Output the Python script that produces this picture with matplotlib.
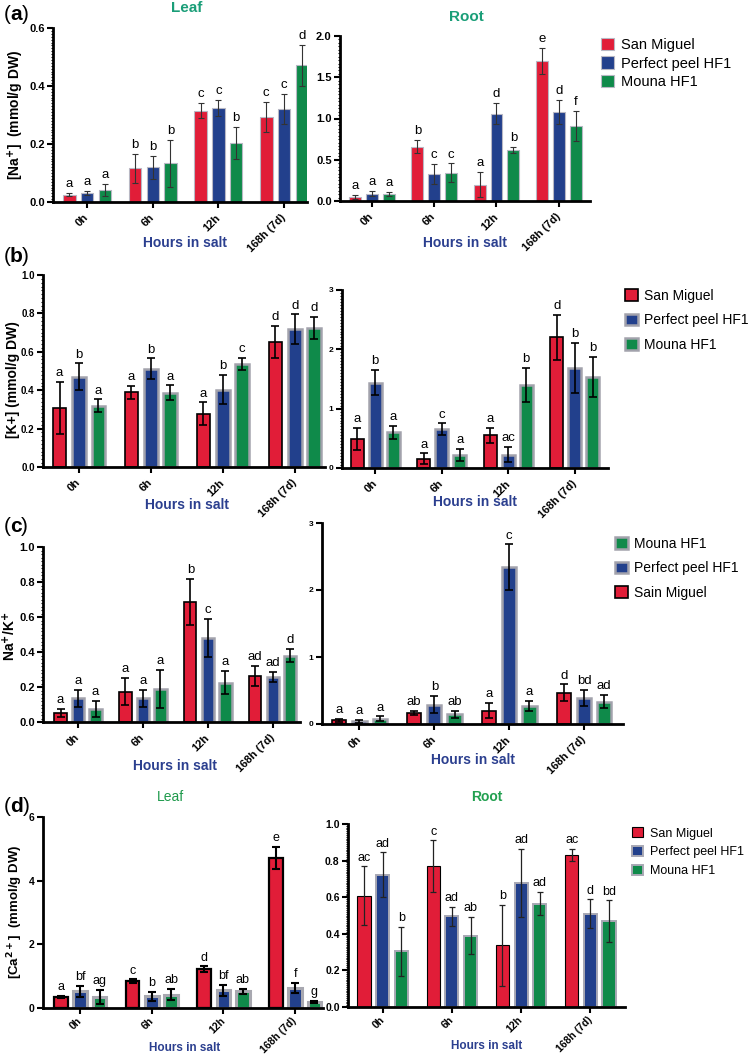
import numpy as np
import matplotlib
matplotlib.use('Agg')
import matplotlib.pyplot as plt
from matplotlib.patches import Patch
from matplotlib.ticker import AutoMinorLocator

plt.rcParams['font.family'] = ['Liberation Sans', 'DejaVu Sans']

W, H = 750, 1056

groups = ['0h', '6h', '12h', '168h (7d)']
cultivars = ['San Miguel', 'Perfect peel HF1', 'Mouna HF1']

# (a) Na+ leaf
na_leaf_sm = [0.025, 0.117, 0.315, 0.292]
na_leaf_pp = [0.030, 0.120, 0.324, 0.320]
na_leaf_mo = [0.042, 0.133, 0.203, 0.471]
na_leaf_sm_err = [0.006, 0.050, 0.026, 0.052]
na_leaf_pp_err = [0.007, 0.040, 0.029, 0.052]
na_leaf_mo_err = [0.021, 0.080, 0.055, 0.070]
na_leaf_letters = [['a', 'b', 'c', 'c'], ['a', 'b', 'c', 'c'], ['a', 'b', 'b', 'd']]

# (a) Na+ root
na_root_sm = [0.05, 0.66, 0.20, 1.70]
na_root_pp = [0.09, 0.33, 1.06, 1.08]
na_root_mo = [0.085, 0.345, 0.62, 0.91]
na_root_sm_err = [0.02, 0.08, 0.15, 0.16]
na_root_pp_err = [0.03, 0.12, 0.13, 0.15]
na_root_mo_err = [0.025, 0.11, 0.04, 0.18]
na_root_letters = [['a', 'b', 'a', 'e'], ['a', 'c', 'd', 'd'], ['a', 'c', 'b', 'f']]

# (b) K+ leaf
k_leaf_sm = [0.308, 0.390, 0.277, 0.650]
k_leaf_pp = [0.470, 0.513, 0.403, 0.717]
k_leaf_mo = [0.320, 0.388, 0.537, 0.725]
k_leaf_sm_err = [0.137, 0.034, 0.060, 0.084]
k_leaf_pp_err = [0.070, 0.053, 0.075, 0.078]
k_leaf_mo_err = [0.032, 0.037, 0.032, 0.056]
k_leaf_letters = [['a', 'a', 'a', 'd'], ['b', 'b', 'b', 'd'], ['a', 'a', 'c', 'd']]

# (b) K+ root
k_root_sm = [0.49, 0.157, 0.55, 2.20]
k_root_pp = [1.44, 0.656, 0.224, 1.69]
k_root_mo = [0.60, 0.224, 1.40, 1.53]
k_root_sm_err = [0.18, 0.09, 0.13, 0.38]
k_root_pp_err = [0.21, 0.095, 0.126, 0.42]
k_root_mo_err = [0.11, 0.10, 0.29, 0.34]
k_root_letters = [['a', 'a', 'a', 'd'], ['b', 'c', 'ac', 'b'], ['a', 'a', 'b', 'b']]

# (c) Na+/K+ leaf
nak_leaf_sm = [0.052, 0.173, 0.686, 0.263]
nak_leaf_pp = [0.135, 0.135, 0.480, 0.258]
nak_leaf_mo = [0.075, 0.190, 0.225, 0.379]
nak_leaf_sm_err = [0.021, 0.078, 0.130, 0.058]
nak_leaf_pp_err = [0.048, 0.049, 0.110, 0.028]
nak_leaf_mo_err = [0.044, 0.110, 0.067, 0.038]
nak_leaf_letters = [['a', 'a', 'b', 'ad'], ['a', 'a', 'c', 'ad'], ['a', 'a', 'a', 'd']]

# (c) Na+/K+ root
nak_root_sm = [0.055, 0.167, 0.20, 0.47]
nak_root_pp = [0.040, 0.290, 2.34, 0.385]
nak_root_mo = [0.080, 0.146, 0.27, 0.333]
nak_root_sm_err = [0.02, 0.03, 0.11, 0.12]
nak_root_pp_err = [0.02, 0.13, 0.34, 0.12]
nak_root_mo_err = [0.035, 0.055, 0.07, 0.10]
nak_root_letters = [['a', 'ab', 'a', 'd'], ['a', 'b', 'c', 'bd'], ['a', 'ab', 'a', 'ad']]
nak_root_legend = ['Mouna HF1', 'Perfect peel HF1', 'Sain Miguel']

# (d) Ca2+ leaf
ca_leaf_sm = [0.34, 0.85, 1.22, 4.72]
ca_leaf_pp = [0.52, 0.37, 0.55, 0.64]
ca_leaf_mo = [0.34, 0.42, 0.52, 0.20]
ca_leaf_sm_err = [0.04, 0.05, 0.09, 0.34]
ca_leaf_pp_err = [0.17, 0.14, 0.17, 0.16]
ca_leaf_mo_err = [0.22, 0.18, 0.09, 0.03]
ca_leaf_letters = [['a', 'c', 'd', 'e'], ['bf', 'b', 'bf', 'f'], ['ag', 'ab', 'ab', 'g']]

# (d) Ca2+ root
ca_root_sm = [0.608, 0.769, 0.337, 0.832]
ca_root_pp = [0.723, 0.495, 0.678, 0.510]
ca_root_mo = [0.304, 0.390, 0.565, 0.468]
ca_root_sm_err = [0.160, 0.142, 0.223, 0.034]
ca_root_pp_err = [0.122, 0.053, 0.187, 0.078]
ca_root_mo_err = [0.135, 0.103, 0.064, 0.114]
ca_root_letters = [['ac', 'c', 'b', 'ac'], ['ad', 'ad', 'ad', 'd'], ['b', 'ab', 'ad', 'bd']]

RED = '#E11D38'
BLUE = '#22408C'
GREEN = '#0F8A4A'
COLS = [RED, BLUE, GREEN]
NAVY = '#2B3F8F'
TEAL = '#1A9E78'

fig = plt.figure(figsize=(W / 100, H / 100), dpi=100)


def rect(x0, x1, ytop, ybot):
    return [x0 / W, 1 - ybot / H, (x1 - x0) / W, (ybot - ytop) / H]


STYLE_THIN = dict(edges=[('#b8b8c4', 0.8)] * 3, ecolor='#333333', elw=0.8,
                  cap=2.5, lfs=9.5)
STYLE_BOLD = dict(edges=[('black', 1.2), ('#a2a2ac', 1.8), ('#a2a2ac', 1.8)],
                  ecolor='black', elw=1.2, cap=3, lfs=9.5)
STYLE_HEAVY = dict(edges=[('black', 1.6), ('#a8a8b0', 2.2), ('#a8a8b0', 2.2)],
                   ecolor='black', elw=1.5, cap=3, lfs=9)
STYLE_ROOTD = dict(edges=[('black', 0.8), ('#a8a8b4', 1.4), ('#a8a8b4', 1.4)],
                   ecolor='#222222', elw=0.9, cap=2.5, lfs=9)


def panel(r, vals, errs, letters, ylim, yticks, ylabels, xlim, style,
          ytick_fs=8, xtick_fs=8, minor=10, xpad=6):
    ax = fig.add_axes(r)
    x = np.arange(len(groups))
    offs = [-0.27, 0.0, 0.27]
    for i in range(3):
        ec, lw = style['edges'][i]
        ax.bar(x + offs[i], vals[i], width=0.19, color=COLS[i], edgecolor=ec,
               linewidth=lw, zorder=2)
        ax.errorbar(x + offs[i], vals[i], yerr=errs[i], fmt='none',
                    ecolor=style['ecolor'], elinewidth=style['elw'],
                    capsize=style['cap'], capthick=style['elw'], zorder=3)
        for j in range(len(groups)):
            ax.annotate(letters[i][j], (x[j] + offs[i], vals[i][j] + errs[i][j]),
                        xytext=(0, 2), textcoords='offset points', ha='center',
                        va='bottom', fontsize=style['lfs'])
    ax.set_xlim(*xlim)
    ax.set_ylim(*ylim)
    ax.set_yticks(yticks)
    ax.set_yticklabels(ylabels, fontweight='bold', fontsize=ytick_fs)
    ax.yaxis.set_minor_locator(AutoMinorLocator(minor))
    ax.set_xticks(x)
    ax.set_xticklabels(groups, rotation=45, ha='right', va='center',
                       rotation_mode='anchor', fontweight='bold',
                       fontsize=xtick_fs)
    ax.tick_params(axis='x', length=4, width=1.5, pad=xpad)
    ax.tick_params(axis='y', which='major', length=4, width=1.5, pad=2)
    ax.tick_params(axis='y', which='minor', length=1.5, width=0.8)
    for s in ['top', 'right']:
        ax.spines[s].set_visible(False)
    for s in ['left', 'bottom']:
        ax.spines[s].set_linewidth(2)
    ax.set_facecolor('none')
    return ax


def legend(x, y, labels, style, colors, fs=10, spacing=0.45):
    handles = []
    for lab, c, (ec, lw) in zip(labels, colors, style):
        handles.append(Patch(facecolor=c, edgecolor=ec, linewidth=lw, label=lab))
    fig.legend(handles=handles, loc='upper left', bbox_to_anchor=(x / W, 1 - y / H),
               frameon=False, fontsize=fs, handlelength=0.9, handleheight=0.9,
               handletextpad=0.5, labelspacing=spacing, borderaxespad=0,
               borderpad=0)


def ftext(x, y, s, **kw):
    fig.text(x / W, 1 - y / H, s, ha='center', va='center', **kw)


def plabel(y, letter, close_x):
    fig.text(4 / W, 1 - y / H, '(', fontsize=15, va='center', ha='left')
    fig.text(10 / W, 1 - y / H, letter, fontsize=15, fontweight='bold',
             va='center', ha='left')
    fig.text(close_x / W, 1 - y / H, ')', fontsize=15, va='center', ha='left')


# ---------------- (a) ----------------
panel(rect(53, 307, 28, 202), [na_leaf_sm, na_leaf_pp, na_leaf_mo],
      [na_leaf_sm_err, na_leaf_pp_err, na_leaf_mo_err], na_leaf_letters,
      (0, 0.6), [0, 0.2, 0.4, 0.6], ['0.0', '0.2', '0.4', '0.6'],
      (-0.52, 3.35), STYLE_THIN, minor=20)
panel(rect(340, 590, 36, 201), [na_root_sm, na_root_pp, na_root_mo],
      [na_root_sm_err, na_root_pp_err, na_root_mo_err], na_root_letters,
      (0, 2.0), [0, 0.5, 1.0, 1.5, 2.0], ['0.0', '0.5', '1.0', '1.5', '2.0'],
      (-0.51, 3.5), STYLE_THIN, minor=12)
legend(601, 38, cultivars, [('#b8b8c4', 0.8)] * 3, COLS, fs=10.5, spacing=0.3)
ftext(187, 8, 'Leaf', color=TEAL, fontweight='bold', fontsize=11)
ftext(466, 17, 'Root', color=TEAL, fontweight='bold', fontsize=11)
ftext(185, 243, 'Hours in salt', color=NAVY, fontweight='bold', fontsize=10)
ftext(465, 243, 'Hours in salt', color=NAVY, fontweight='bold', fontsize=10)
plabel(15, 'a', 22)
ftext(16, 115, '[Na$^{\\mathbf{+}}$]  (mmol/g DW)', rotation=90, fontweight='bold',
      fontsize=10)

# ---------------- (b) ----------------
panel(rect(43, 325, 275, 467), [k_leaf_sm, k_leaf_pp, k_leaf_mo],
      [k_leaf_sm_err, k_leaf_pp_err, k_leaf_mo_err], k_leaf_letters,
      (0, 1.0), [0, 0.2, 0.4, 0.6, 0.8, 1.0],
      ['0.0', '0.2', '0.4', '0.6', '0.8', '1.0'],
      (-0.5, 3.42), STYLE_BOLD, ytick_fs=7, minor=10)
panel(rect(342, 608, 290, 468), [k_root_sm, k_root_pp, k_root_mo],
      [k_root_sm_err, k_root_pp_err, k_root_mo_err], k_root_letters,
      (0, 3), [0, 1, 2, 3], ['0', '1', '2', '3'],
      (-0.5, 3.5), STYLE_BOLD, ytick_fs=6, minor=20)
legend(625, 289, cultivars, STYLE_BOLD['edges'], COLS, fs=10, spacing=0.75)
ftext(187, 505, 'Hours in salt', color=NAVY, fontweight='bold', fontsize=10)
ftext(475, 502, 'Hours in salt', color=NAVY, fontweight='bold', fontsize=10)
plabel(256, 'b', 22)
ftext(13, 380, '[K+] (mmol/g DW)', rotation=90, fontweight='bold', fontsize=10)

# ---------------- (c) ----------------
panel(rect(43, 300, 547, 722), [nak_leaf_sm, nak_leaf_pp, nak_leaf_mo],
      [nak_leaf_sm_err, nak_leaf_pp_err, nak_leaf_mo_err], nak_leaf_letters,
      (0, 1.0), [0, 0.2, 0.4, 0.6, 0.8, 1.0],
      ['0.0', '0.2', '0.4', '0.6', '0.8', '1.0'],
      (-0.54, 3.42), STYLE_BOLD, ytick_fs=8, minor=10)
panel(rect(322, 623, 523, 724), [nak_root_sm, nak_root_pp, nak_root_mo],
      [nak_root_sm_err, nak_root_pp_err, nak_root_mo_err], nak_root_letters,
      (0, 3), [0, 1, 2, 3], ['0', '1', '2', '3'],
      (-0.5, 3.52), STYLE_BOLD, ytick_fs=6, minor=1)
legend(615, 537, nak_root_legend,
       [STYLE_BOLD['edges'][2], STYLE_BOLD['edges'][1], STYLE_BOLD['edges'][0]],
       [GREEN, BLUE, RED], fs=10, spacing=0.75)
ftext(175, 766, 'Hours in salt', color=NAVY, fontweight='bold', fontsize=10)
ftext(473, 760, 'Hours in salt', color=NAVY, fontweight='bold', fontsize=10)
plabel(527, 'c', 21)
ftext(10, 636, 'Na$^{\\mathbf{+}}$/K$^{\\mathbf{+}}$', rotation=90,
      fontweight='bold', fontsize=10)

# ---------------- (d) ----------------
panel(rect(43, 323, 817, 1008), [ca_leaf_sm, ca_leaf_pp, ca_leaf_mo],
      [ca_leaf_sm_err, ca_leaf_pp_err, ca_leaf_mo_err], ca_leaf_letters,
      (0, 6), [0, 2, 4, 6], ['0', '2', '4', '6'],
      (-0.52, 3.39), STYLE_HEAVY, ytick_fs=7.5, xtick_fs=7.5, minor=1, xpad=4)
panel(rect(348, 625, 824, 1007), [ca_root_sm, ca_root_pp, ca_root_mo],
      [ca_root_sm_err, ca_root_pp_err, ca_root_mo_err], ca_root_letters,
      (0, 1.0), [0, 0.2, 0.4, 0.6, 0.8, 1.0],
      ['0.0', '0.2', '0.4', '0.6', '0.8', '1.0'],
      (-0.5, 3.5), STYLE_ROOTD, ytick_fs=7.5, xtick_fs=7.5, minor=20, xpad=4)
legend(632, 827, cultivars, STYLE_ROOTD['edges'], COLS, fs=9, spacing=0.5)
ftext(170, 797, 'Leaf', color='#1F9A4C', fontsize=10)
ftext(487, 797, 'Root', color='#22A050', fontweight='bold', fontsize=10)
ftext(185, 1048, 'Hours in salt', color=NAVY, fontweight='bold', fontsize=8.5)
ftext(487, 1046, 'Hours in salt', color=NAVY, fontweight='bold', fontsize=8.5)
plabel(806, 'd', 23)
ftext(15, 912, '[Ca$^{\\mathbf{2+}}$]  (mmol/g DW)', rotation=90,
      fontweight='bold', fontsize=9.5)

fig.savefig('out.png', dpi=100)
